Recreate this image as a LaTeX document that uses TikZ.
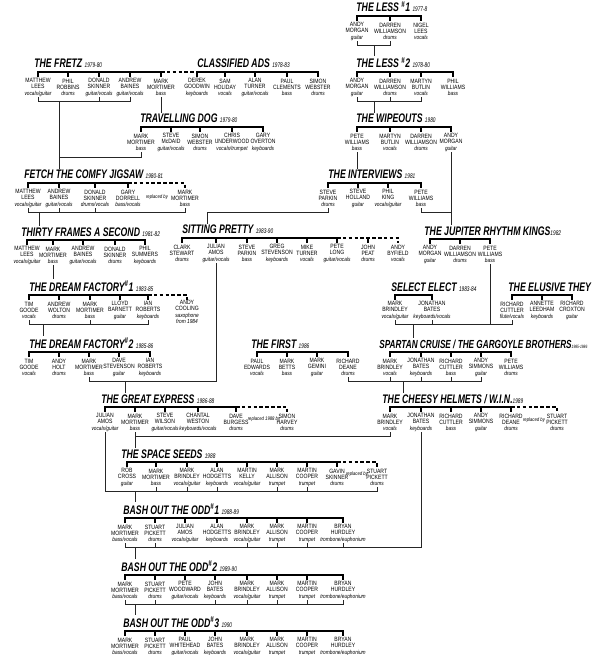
\documentclass[tikz,border=0pt]{standalone}
\usepackage{fontspec}
\newfontfamily\namefont[FakeStretch=0.82]{Liberation Sans}
\newfontfamily\titlefont[FakeStretch=0.7]{Liberation Sans}
\newcommand\role[1]{{\itshape\fontsize{5}{5.4}\selectfont #1}}
\newcommand\yr[1]{{\mdseries\fontsize{5.8}{6}\selectfont #1}}
\newcommand\nr[1]{\textsuperscript{\#}#1}

\tikzset{
  member/.style={anchor=north, align=center, inner sep=0pt, minimum height=0.6cm,
    font=\namefont\fontsize{5.3}{5.4}\selectfont},
  band/.style={anchor=base west, inner sep=1pt,
    font=\titlefont\bfseries\itshape\fontsize{10.6}{11}\selectfont},
  bar/.style={line width=1.2pt},
  later/.style={bar, dash pattern=on 3pt off 2pt},
  link/.style={line width=0.8pt, black!85},
  note/.style={inner sep=0pt, font=\namefont\itshape\fontsize{4.4}{4.6}\selectfont}
}
\newcommand\who[5]{\node[member] (#1) at (#2,#3) {#4\\\role{#5}};}

\begin{document}
\begin{tikzpicture}[x=0.03cm, y=-0.03cm]
\useasboundingbox (0,0) rectangle (600,655);

% the less / the wipeouts
\node[band] (less1) at (355,12) {THE LESS \nr{1} \yr{1977-8}};
\who{l1-am}{357}{21}{ANDY\\MORGAN}{guitar}
\who{l1-dw}{390}{21}{DARREN\\WILLIAMSON}{drums}
\who{l1-nl}{421}{21}{NIGEL\\LEES}{vocals}
\draw[bar] (l1-am.north) -- ++(0,-5) -| (l1-nl.north);
\draw[bar] (l1-dw.north) -- ++(0,-5);

\node[band] (less2) at (355,68) {THE LESS \nr{2} \yr{1978-80}};
\who{l2-am}{357}{77}{ANDY\\MORGAN}{guitar}
\who{l2-dw}{390}{77}{DARREN\\WILLIAMSON}{drums}
\who{l2-mb}{421}{77}{MARTYN\\BUTLIN}{vocals}
\who{l2-pw}{453}{77}{PHIL\\WILLIAMS}{bass}
\draw[bar] (l2-am.north) -- ++(0,-5) -| (l2-pw.north);
\foreach \m in {l2-dw,l2-mb} \draw[bar] (\m.north) -- ++(0,-5);

\node[band] (wo) at (355,123) {THE WIPEOUTS \yr{1980}};
\who{wo-pw}{357}{132}{PETE\\WILLIAMS}{bass}
\who{wo-mb}{390}{132}{MARTYN\\BUTLIN}{vocals}
\who{wo-dw}{421}{132}{DARREN\\WILLIAMSON}{drums}
\who{wo-am}{451}{132}{ANDY\\MORGAN}{guitar}
\draw[bar] (wo-pw.north) -- ++(0,-5) -| (wo-am.north);
\foreach \m in {wo-mb,wo-dw} \draw[bar] (\m.north) -- ++(0,-5);

% the fretz / classified ads / travelling dog
\node[band] (fr) at (33,68) {THE FRETZ \yr{1979-80}};
\who{fr-ml}{38}{77}{MATTHEW\\LEES}{vocals/guitar}
\who{fr-pr}{68}{77}{PHIL\\ROBBINS}{drums}
\who{fr-ds}{99}{77}{DONALD\\SKINNER}{guitar/vocals}
\who{fr-ab}{130}{77}{ANDREW\\BAINES}{guitar/vocals}
\who{fr-mm}{161}{77}{MARK\\MORTIMER}{bass}
\draw[bar] (fr-ml.north) -- ++(0,-5) -| (fr-mm.north);
\foreach \m in {fr-pr,fr-ds,fr-ab} \draw[bar] (\m.north) -- ++(0,-5);

\node[band] (ca) at (196,68) {CLASSIFIED ADS \yr{1978-83}};
\who{ca-dg}{197}{77}{DEREK\\GOODWIN}{keyboards}
\who{ca-sh}{225}{77}{SAM\\HOLIDAY}{vocals}
\who{ca-at}{255}{77}{ALAN\\TURNER}{guitar/vocals}
\who{ca-pc}{287}{77}{PAUL\\CLEMENTS}{bass}
\who{ca-sw}{318}{77}{SIMON\\WEBSTER}{drums}
\draw[bar] (ca-dg.north) -- ++(0,-5) -| (ca-sw.north);
\foreach \m in {ca-sh,ca-at,ca-pc} \draw[bar] (\m.north) -- ++(0,-5);
\draw[later] (fr-mm.north) ++(0,-5) -| (ca-dg.north);

\node[band] (td) at (139,123) {TRAVELLING DOG \yr{1979-80}};
\who{td-mm}{141}{132}{MARK\\MORTIMER}{bass}
\who{td-sm}{171}{132}{STEVE\\McDAID}{guitar/vocals}
\who{td-sw}{200}{132}{SIMON\\WEBSTER}{drums}
\who{td-cu}{232}{132}{CHRIS\\UNDERWOOD}{vocals/trumpet}
\who{td-go}{263}{132}{GARY\\OVERTON}{keyboards}
\draw[bar] (td-mm.north) -- ++(0,-5) -| (td-go.north);
\foreach \m in {td-sm,td-sw,td-cu} \draw[bar] (\m.north) -- ++(0,-5);

% fetch the comfy jigsaw / the interviews
\node[band] (fe) at (23,179) {FETCH THE COMFY JIGSAW \yr{1980-81}};
\who{fe-ml}{28}{188}{MATTHEW\\LEES}{vocals/guitar}
\who{fe-ab}{59}{188}{ANDREW\\BAINES}{guitar/vocals}
\who{fe-ds}{95}{188}{DONALD\\SKINNER}{drums/vocals}
\who{fe-gd}{128}{188}{GARY\\DORRELL}{bass/vocals}
\who{fe-mm}{185}{188}{MARK\\MORTIMER}{bass}
\node[note] (fe-rep) at (157,197) {replaced by};
\draw[bar] (fe-ml.north) -- ++(0,-5) -| (fe-gd.north);
\foreach \m in {fe-ab,fe-ds} \draw[bar] (\m.north) -- ++(0,-5);
\draw[later] (fe-gd.north) ++(0,-5) -| (fe-mm.north);

\node[band] (iv) at (327,179) {THE INTERVIEWS \yr{1981}};
\who{iv-sp}{328}{188}{STEVE\\PARKIN}{drums}
\who{iv-sh}{358}{188}{STEVE\\HOLLAND}{guitar}
\who{iv-pk}{388}{188}{PHIL\\KING}{vocals/guitar}
\who{iv-pw}{421}{188}{PETE\\WILLIAMS}{bass}
\draw[bar] (iv-sp.north) -- ++(0,-5) -| (iv-pw.north);
\foreach \m in {iv-sh,iv-pk} \draw[bar] (\m.north) -- ++(0,-5);

% thirty frames / sitting pretty / jupiter rhythm kings
\node[band] (tf) at (20,236) {THIRTY FRAMES A SECOND \yr{1981-82}};
\who{tf-ml}{27}{245}{MATTHEW\\LEES}{vocals/guitar}
\who{tf-mm}{53}{245}{MARK\\MORTIMER}{bass}
\who{tf-ab}{83}{245}{ANDREW\\BAINES}{guitar/vocals}
\who{tf-ds}{115}{245}{DONALD\\SKINNER}{drums}
\who{tf-ps}{145}{245}{PHIL\\SUMMERS}{keyboards}
\draw[bar] (tf-ml.north) -- ++(0,-5) -| (tf-ps.north);
\foreach \m in {tf-mm,tf-ab,tf-ds} \draw[bar] (\m.north) -- ++(0,-5);

\node[band] (sp) at (181,234) {SITTING PRETTY \yr{1983-90}};
\who{sp-cs}{182}{243}{CLARK\\STEWART}{drums}
\who{sp-ja}{216}{243}{JULIAN\\AMOS}{guitar/vocals}
\who{sp-sp}{247}{243}{STEVE\\PARKIN}{bass}
\who{sp-gs}{277}{243}{GREG\\STEVENSON}{keyboards}
\who{sp-mt}{307}{243}{MIKE\\TURNER}{vocals}
\who{sp-pl}{337}{243}{PETE\\LONG}{guitar/vocals}
\who{sp-jp}{368}{243}{JOHN\\PEAT}{drums}
\who{sp-ab}{398}{243}{ANDY\\BYFIELD}{vocals}
\draw[bar] (sp-cs.north) -- ++(0,-5) -| (sp-pl.north);
\foreach \m in {sp-ja,sp-sp,sp-gs,sp-mt} \draw[bar] (\m.north) -- ++(0,-5);
\draw[later] (sp-pl.north) ++(0,-5) -| (sp-ab.north);
\draw[later] (sp-jp.north) -- ++(0,-5);

\node[band] (jrk) at (423,235) {THE JUPITER RHYTHM KINGS\yr{1982}};
\who{jrk-am}{430}{244}{ANDY\\MORGAN}{guitar}
\who{jrk-dw}{460}{244}{DARREN\\WILLIAMSON}{drums}
\who{jrk-pw}{490}{244}{PETE\\WILLIAMS}{bass}
\draw[bar] (jrk-am.north) -- ++(0,-5) -| (jrk-pw.north);
\draw[bar] (jrk-dw.north) -- ++(0,-5);

% dream factory / select elect / elusive they
\node[band] (df1) at (28,291) {THE DREAM FACTORY\nr{1} \yr{1983-85}};
\who{df1-tg}{29}{300}{TIM\\GOODE}{vocals}
\who{df1-aw}{59}{300}{ANDREW\\WOLTON}{drums}
\who{df1-mm}{90}{300}{MARK\\MORTIMER}{bass}
\who{df1-lb}{120}{300}{LLOYD\\BARNETT}{guitar}
\who{df1-ir}{148}{300}{IAN\\ROBERTS}{keyboards}
\node[member] (df1-ac) at (187,300) {ANDY\\COOLING\\\role{saxophone}\\\role{from 1984}};
\draw[bar] (df1-tg.north) -- ++(0,-5) -| (df1-ir.north);
\foreach \m in {df1-aw,df1-mm,df1-lb} \draw[bar] (\m.north) -- ++(0,-5);
\draw[later] (df1-ir.north) ++(0,-5) -| (df1-ac.north);

\node[band] (se) at (390,291) {SELECT ELECT \yr{1983-84}};
\who{se-mb}{395}{300}{MARK\\BRINDLEY}{vocals/guitar}
\who{se-jb}{432}{300}{JONATHAN\\BATES}{keyboards/vocals}
\draw[bar] (se-mb.north) -- ++(0,-5) -| (se-jb.north);

\node[band] (et) at (507,291) {THE ELUSIVE THEY};
\who{et-rc}{512}{300}{RICHARD\\CUTTLER}{flute/vocals}
\who{et-al}{542}{300}{ANNETTE\\LEEDHAM}{keyboards}
\who{et-rx}{572}{300}{RICHARD\\CROXTON}{guitar}
\draw[bar] (et-rc.north) -- ++(0,-5) -| (et-rx.north);
\draw[bar] (et-al.north) -- ++(0,-5);

\node[band] (df2) at (28,348) {THE DREAM FACTORY\nr{2} \yr{1985-86}};
\who{df2-tg}{29}{357}{TIM\\GOODE}{vocals}
\who{df2-ah}{59}{357}{ANDY\\HOLT}{drums}
\who{df2-mm}{89}{357}{MARK\\MORTIMER}{bass}
\who{df2-ds}{119}{357}{DAVE\\STEVENSON}{guitar}
\who{df2-ir}{150}{357}{IAN\\ROBERTS}{keyboards}
\draw[bar] (df2-tg.north) -- ++(0,-5) -| (df2-ir.north);
\foreach \m in {df2-ah,df2-mm,df2-ds} \draw[bar] (\m.north) -- ++(0,-5);

\node[band] (fi) at (250,348) {THE FIRST \yr{1986}};
\who{fi-pe}{257}{357}{PAUL\\EDWARDS}{vocals}
\who{fi-mb}{287}{357}{MARK\\BETTS}{bass}
\who{fi-mg}{317}{357}{MARK\\GEMINI}{guitar}
\who{fi-rd}{348}{357}{RICHARD\\DEANE}{drums}
\draw[bar] (fi-pe.north) -- ++(0,-5) -| (fi-rd.north);
\foreach \m in {fi-mb,fi-mg} \draw[bar] (\m.north) -- ++(0,-5);

\node[band, font=\titlefont\bfseries\itshape\fontsize{10}{11}\selectfont] (spc) at (378,348)
  {SPARTAN CRUISE / THE GARGOYLE BROTHERS{\mdseries\fontsize{4}{4}\selectfont 1985-1986}};
\who{spc-mb}{390}{357}{MARK\\BRINDLEY}{vocals}
\who{spc-jb}{421}{357}{JONATHAN\\BATES}{keyboards}
\who{spc-rc}{451}{357}{RICHARD\\CUTTLER}{bass}
\who{spc-as}{481}{357}{ANDY\\SIMMONS}{guitar}
\who{spc-pw}{511}{357}{PETE\\WILLIAMS}{drums}
\draw[bar] (spc-mb.north) -- ++(0,-5) -| (spc-pw.north);
\foreach \m in {spc-jb,spc-rc,spc-as} \draw[bar] (\m.north) -- ++(0,-5);

% great express / cheesy helmets / space seeds
\node[band] (ge) at (100,403) {THE GREAT EXPRESS \yr{1986-88}};
\who{ge-ja}{105}{412}{JULIAN\\AMOS}{vocals/guitar}
\who{ge-mm}{135}{412}{MARK\\MORTIMER}{bass}
\who{ge-sw}{165}{412}{STEVE\\WILSON}{guitar/vocals}
\who{ge-cw}{198}{412}{CHANTAL\\WESTON}{keyboards/vocals}
\who{ge-db}{236}{412}{DAVE\\BURGESS}{drums}
\who{ge-sh}{287}{412}{SIMON\\HARVEY}{drums}
\node[note] (ge-rep) at (264,419) {replaced 1988 by};
\draw[bar] (ge-ja.north) -- ++(0,-5) -| (ge-db.north);
\foreach \m in {ge-mm,ge-sw,ge-cw} \draw[bar] (\m.north) -- ++(0,-5);
\draw[later] (ge-db.north) ++(0,-5) -| (ge-sh.north);

\node[band] (ch) at (381,403) {THE CHEESY HELMETS / W.I.N.\yr{1989}};
\who{ch-mb}{390}{412}{MARK\\BRINDLEY}{vocals}
\who{ch-jb}{421}{412}{JONATHAN\\BATES}{keyboards}
\who{ch-rc}{451}{412}{RICHARD\\CUTTLER}{bass}
\who{ch-as}{481}{412}{ANDY\\SIMMONS}{guitar}
\who{ch-rd}{511}{412}{RICHARD\\DEANE}{drums}
\who{ch-sp}{557}{412}{STUART\\PICKETT}{drums}
\node[note] (ch-rep) at (534,420) {replaced by};
\draw[bar] (ch-mb.north) -- ++(0,-5) -| (ch-rd.north);
\foreach \m in {ch-jb,ch-rc,ch-as} \draw[bar] (\m.north) -- ++(0,-5);
\draw[later] (ch-rd.north) ++(0,-5) -| (ch-sp.north);

\node[band] (ss) at (120,458) {THE SPACE SEEDS \yr{1988}};
\who{ss-rc}{127}{467}{ROB\\CROSS}{guitar}
\who{ss-mm}{156}{467}{MARK\\MORTIMER}{bass}
\who{ss-mb}{187}{467}{MARK\\BRINDLEY}{vocals/guitar}
\who{ss-ah}{217}{467}{ALAN\\HODGETTS}{keyboards}
\who{ss-mk}{247}{467}{MARTIN\\KELLY}{vocals/guitar}
\who{ss-ma}{277}{467}{MARK\\ALLISON}{trumpet}
\who{ss-mc}{307}{467}{MARTIN\\COOPER}{trumpet}
\who{ss-gs}{337}{467}{GAVIN\\SKINNER}{drums}
\who{ss-sp}{377}{467}{STUART\\PICKETT}{drums}
\node[note] (ss-rep) at (357,474) {replaced by};
\draw[bar] (ss-rc.north) -- ++(0,-5) -| (ss-gs.north);
\foreach \m in {ss-mm,ss-mb,ss-ah,ss-mk,ss-ma,ss-mc} \draw[bar] (\m.north) -- ++(0,-5);
\draw[later] (ss-gs.north) ++(0,-5) -| (ss-sp.north);

% bash out the odd
\node[band] (b1) at (122,514) {BASH OUT THE ODD\nr{1} \yr{1988-89}};
\who{b1-mm}{125}{523}{MARK\\MORTIMER}{bass/vocals}
\who{b1-sp}{155}{523}{STUART\\PICKETT}{drums}
\who{b1-ja}{185}{523}{JULIAN\\AMOS}{vocals/guitar}
\who{b1-ah}{217}{523}{ALAN\\HODGETTS}{keyboards}
\who{b1-mb}{247}{523}{MARK\\BRINDLEY}{vocals/guitar}
\who{b1-ma}{277}{523}{MARK\\ALLISON}{trumpet}
\who{b1-mc}{307}{523}{MARTIN\\COOPER}{trumpet}
\who{b1-bh}{343}{523}{BRYAN\\HURDLEY}{trombone/euphonium}
\draw[bar] (b1-mm.north) -- ++(0,-5) -| (b1-bh.north);
\foreach \m in {b1-sp,b1-ja,b1-ah,b1-mb,b1-ma,b1-mc} \draw[bar] (\m.north) -- ++(0,-5);

\node[band] (b2) at (120,571) {BASH OUT THE ODD\nr{2} \yr{1989-90}};
\who{b2-mm}{125}{580}{MARK\\MORTIMER}{bass/vocals}
\who{b2-sp}{155}{580}{STUART\\PICKETT}{drums}
\who{b2-pw}{185}{580}{PETE\\WOODWARD}{guitar/vocals}
\who{b2-jb}{215}{580}{JOHN\\BATES}{keyboards}
\who{b2-mb}{247}{580}{MARK\\BRINDLEY}{vocals/guitar}
\who{b2-ma}{277}{580}{MARK\\ALLISON}{trumpet}
\who{b2-mc}{307}{580}{MARTIN\\COOPER}{trumpet}
\who{b2-bh}{343}{580}{BRYAN\\HURDLEY}{trombone/euphonium}
\draw[bar] (b2-mm.north) -- ++(0,-5) -| (b2-bh.north);
\foreach \m in {b2-sp,b2-pw,b2-jb,b2-mb,b2-ma,b2-mc} \draw[bar] (\m.north) -- ++(0,-5);

\node[band] (b3) at (122,627) {BASH OUT THE ODD\nr{3} \yr{1990}};
\who{b3-mm}{125}{636}{MARK\\MORTIMER}{bass/vocals}
\who{b3-sp}{155}{636}{STUART\\PICKETT}{drums}
\who{b3-pw}{185}{636}{PAUL\\WHITEHEAD}{guitar/vocals}
\who{b3-jb}{215}{636}{JOHN\\BATES}{keyboards}
\who{b3-mb}{247}{636}{MARK\\BRINDLEY}{vocals/guitar}
\who{b3-ma}{277}{636}{MARK\\ALLISON}{trumpet}
\who{b3-mc}{307}{636}{MARTIN\\COOPER}{trumpet}
\who{b3-bh}{343}{636}{BRYAN\\HURDLEY}{trombone/euphonium}
\draw[bar] (b3-mm.north) -- ++(0,-5) -| (b3-bh.north);
\foreach \m in {b3-sp,b3-pw,b3-jb,b3-mb,b3-ma,b3-mc} \draw[bar] (\m.north) -- ++(0,-5);

% who went where
\coordinate (l1-out) at (374,45);
\coordinate (l2-out) at (374,101);
\coordinate (fr-out) at (59,101);
\coordinate (fe-out) at (39,212);
\coordinate (iv-out) at (207,212);
\coordinate (df1-out) at (43,324);
\coordinate (se-out) at (413,324);
\coordinate (df2-out) at (125,381);
\coordinate (spc-out) at (403,381);
\coordinate (ge-out) at (135,436);
\coordinate (ss-out) at (135,491);
\coordinate (b1-out) at (135,547);
\coordinate (b2-out) at (135,604);

\draw[link] (l1-am.south) |- (l1-dw.south |- l1-out) -- (l1-dw.south);
\draw[link] (l1-out) -- (l1-out |- less2.north);
\draw[link] (l2-am.south) |- (l2-mb.south |- l2-out) -- (l2-mb.south);
\draw[link] (l2-dw.south) -- (l2-dw.south |- l2-out);
\draw[link] (l2-out) -- (l2-out |- wo.north);
\draw[link] (wo-pw.south) -- (wo-pw.south |- iv.north);
\draw[link] (wo-am.south) -- (wo-am.south |- jrk.north);

\draw[link] (fr-ml.south) |- (fr-ab.south |- fr-out) -- (fr-ab.south);
\draw[link] (fr-ds.south) -- (fr-ds.south |- fr-out);
\draw[link] (fr-out) -- (fr-out |- fe.north);
\draw[link] (fr-mm.south) -- (fr-mm.south |- td.north);
\draw[link] (td-mm.south) -- ++(0,5) -| (fr-out);

\draw[link] (fe-ml.south) |- (fe-mm.south |- fe-out) -- (fe-mm.south);
\foreach \m in {fe-ab,fe-ds} \draw[link] (\m.south) -- (\m.south |- fe-out);
\draw[link] (fe-out) -- (fe-out |- tf.north);
\draw[link] (iv-sp.south) |- (iv-out) -- (iv-out |- sp.north);
\draw[link] (iv-pw.south) |- (wo-am.south |- iv-out);
\draw[link] (tf-mm.south) -- (tf-mm.south |- df1.north);

\draw[link] (df1-tg.south) |- (df1-ir.south |- df1-out) -- (df1-ir.south);
\draw[link] (df1-mm.south) -- (df1-mm.south |- df1-out);
\draw[link] (df1-out) -- (df1-out |- df2.north);

\draw[link] (se-mb.south) |- (et-rc.south |- se-out) -- (et-rc.south);
\foreach \m in {se-jb,jrk-pw} \draw[link] (\m.south) -- (\m.south |- se-out);
\draw[link] (se-out) -- (se-out |- spc.north);

\draw[link] (sp-ja.south) |- (df2-mm.south |- df2-out) -- (df2-mm.south);
\draw[link] (df2-out) -- (df2-out |- ge.north);
\draw[link] (fi-rd.south) |- (spc-as.south |- spc-out) -- (spc-as.south);
\foreach \m in {spc-mb,spc-jb,spc-rc} \draw[link] (\m.south) -- (\m.south |- spc-out);
\draw[link] (spc-out) -- (spc-out |- ch.north);

\draw[link] (ge-mm.south) |- (ch-mb.south |- ge-out) -- (ch-mb.south);
\draw[link] (ge-out) -- (ge-out |- ss.north);
\draw[link] (ge-ja.south) |- (ss-sp.south |- ss-out) -- (ss-sp.south);
\foreach \m in {ss-mm,ss-mb,ss-ah,ss-ma,ss-mc} \draw[link] (\m.south) -- (\m.south |- ss-out);
\draw[link] (ss-out) -- (ss-out |- b1.north);

\draw[link] (b1-mm.south) |- (ch-jb.south |- b1-out) -- (ch-jb.south);
\foreach \m in {b1-sp,b1-mb,b1-ma,b1-mc,b1-bh} \draw[link] (\m.south) -- (\m.south |- b1-out);
\draw[link] (b1-out) -- (b1-out |- b2.north);
\draw[link] (b2-mm.south) |- (b2-bh.south |- b2-out) -- (b2-bh.south);
\foreach \m in {b2-sp,b2-jb,b2-mb,b2-ma,b2-mc} \draw[link] (\m.south) -- (\m.south |- b2-out);
\draw[link] (b2-out) -- (b2-out |- b3.north);
\end{tikzpicture}
\end{document}
